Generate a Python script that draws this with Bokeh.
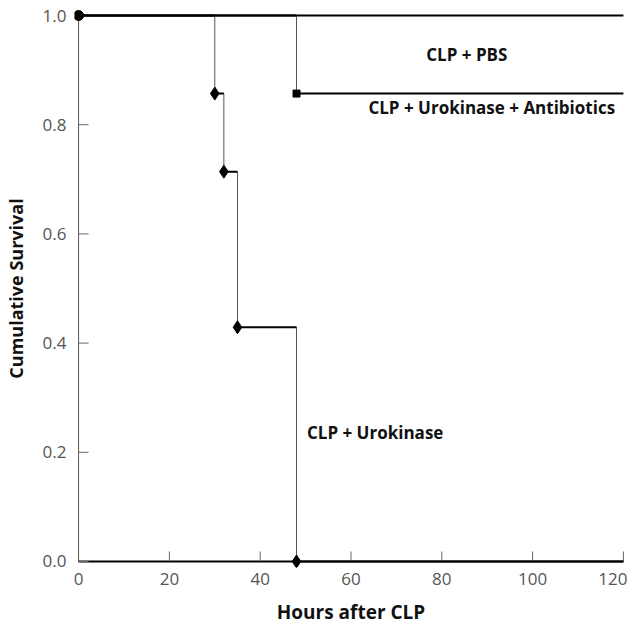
import math
from bokeh.plotting import figure
from bokeh.models import Range1d, FixedTicker, ColumnDataSource, CustomJSTickFormatter
from bokeh.core.properties import value
from bokeh.embed import file_html
from bokeh.resources import INLINE

# ---- data ----
end_time = 120
pbs_t = [0]
pbs_s = [1.0]
uro_t = [0, 30, 32, 35, 48]
uro_s = [1.0, 0.857, 0.714, 0.429, 0.0]
abx_t = [0, 48]
abx_s = [1.0, 0.857]
x_ticks = [0, 20, 40, 60, 80, 100, 120]
y_ticks = [0.0, 0.2, 0.4, 0.6, 0.8, 1.0]
labels = ["CLP + PBS", "CLP + Urokinase + Antibiotics", "CLP + Urokinase"]
label_x = [85.5, 91, 50.3]
label_y = [0.928, 0.831, 0.237]
label_align = ["center", "center", "left"]

FONT = "Open Sans"
XPAD = 0.9
YPAD = 0.011

p = figure(width=627, height=627, output_backend="svg", toolbar_location=None,
           x_range=Range1d(-XPAD, end_time + XPAD), y_range=Range1d(-YPAD, 1 + YPAD),
           min_border_left=72, min_border_right=0, min_border_top=9, min_border_bottom=59)
p.background_fill_color = "white"
p.border_fill_color = "white"
p.outline_line_color = None
p.grid.grid_line_color = None


def steps(t, s):
    hx0, hx1, hy = [], [], []
    vx, vy0, vy1 = [], [], []
    for i in range(len(t)):
        nxt = t[i + 1] if i + 1 < len(t) else end_time
        hx0.append(t[i]); hx1.append(nxt); hy.append(s[i])
        if i > 0:
            vx.append(t[i]); vy0.append(s[i - 1]); vy1.append(s[i])
    return hx0, hx1, hy, vx, vy0, vy1


# axis lines and inward ticks at data zero
p.segment(x0=[0], y0=[0], x1=[0], y1=[1.0], line_color="#555555", line_width=1)
p.segment(x0=[0], y0=[0], x1=[end_time], y1=[0], line_color="black", line_width=2)
p.ray(x=[0] * len(y_ticks), y=y_ticks, length=10, length_units="screen", angle=0,
      line_color="#666666", line_width=1)
p.ray(x=x_ticks[1:], y=[0] * (len(x_ticks) - 1), length=10, length_units="screen",
      angle=math.pi / 2, line_color="#666666", line_width=1)

for t, s in [(pbs_t, pbs_s), (uro_t, uro_s), (abx_t, abx_s)]:
    hx0, hx1, hy, vx, vy0, vy1 = steps(t, s)
    p.segment(x0=vx, y0=vy0, x1=vx, y1=vy1, line_color="#555555", line_width=1)
    p.segment(x0=hx0, y0=hy, x1=hx1, y1=hy, line_color="black", line_width=2)

# markers
p.scatter(x=pbs_t, y=pbs_s, marker="circle", size=10, color="black")
p.scatter(x=uro_t[1:], y=uro_s[1:], marker="diamond", size=13, color="black")
p.scatter(x=abx_t[1:], y=abx_s[1:], marker="square", size=7, color="black")

src = ColumnDataSource(dict(x=label_x, y=label_y, text=labels, align=label_align))
p.text(x="x", y="y", text="text", source=src, text_align="align",
       text_baseline="middle", text_font=value(FONT), text_font_style="bold",
       text_font_size="17px", text_color="#111111")

# axes (labels only; lines drawn at zero above)
for ax in (p.xaxis[0], p.yaxis[0]):
    ax.axis_line_color = None
    ax.major_tick_line_color = None
    ax.minor_tick_line_color = None
    ax.major_tick_in = 0
    ax.major_tick_out = 0
    ax.major_label_text_font = FONT
    ax.major_label_text_font_size = "17px"
    ax.major_label_text_color = "#555555"
    ax.axis_label_text_font = FONT
    ax.axis_label_text_font_style = "bold"
    ax.axis_label_text_color = "#111111"

p.xaxis.axis_label_text_font_size = "19px"
p.yaxis.axis_label_text_font_size = "18px"
p.xaxis.ticker = FixedTicker(ticks=x_ticks)
p.yaxis.ticker = FixedTicker(ticks=y_ticks)
p.yaxis.formatter = CustomJSTickFormatter(code="return tick.toFixed(1);")
p.xaxis.axis_label = "Hours after CLP"
p.yaxis.axis_label = "Cumulative Survival"
p.xaxis.major_label_standoff = 5
p.xaxis.axis_label_standoff = 11
p.yaxis.major_label_standoff = 8
p.yaxis.axis_label_standoff = 12

open("out.html", "w").write(file_html(p, INLINE))
